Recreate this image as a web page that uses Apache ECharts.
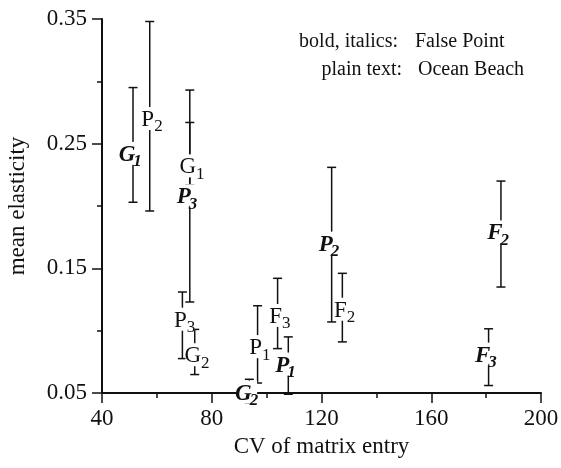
<!DOCTYPE html>
<html>
<head>
<meta charset="utf-8">
<script src="https://cdn.jsdelivr.net/npm/echarts@6/dist/echarts.min.js"></script>
<style>
  html, body { margin: 0; padding: 0; background: #fff; }
  #chart { width: 561px; height: 468px; }
</style>
</head>
<body>
<div id="chart"></div>
<script>
// False Point (bold, italics)
const fpLabels = [['G', '1'], ['P', '3'], ['G', '2'], ['P', '1'], ['P', '2'], ['F', '3'], ['F', '2']]
const fpCV = [51.3, 72.0, 93.7, 107.9, 123.7, 180.9, 185.4]
const fpMean = [0.241, 0.207, 0.0495, 0.072, 0.169, 0.080, 0.178]
const fpLow = [0.203, 0.123, 0.042, 0.049, 0.107, 0.056, 0.135]
const fpHigh = [0.295, 0.267, 0.061, 0.095, 0.231, 0.1015, 0.220]

// Ocean Beach (plain text)
const obLabels = [['P', '2'], ['G', '1'], ['P', '3'], ['G', '2'], ['P', '1'], ['F', '3'], ['F', '2']]
const obCV = [57.4, 72.0, 69.3, 73.8, 96.7, 104.0, 127.6]
const obMean = [0.269, 0.231, 0.108, 0.0795, 0.086, 0.111, 0.116]
const obLow = [0.196, 0.217, 0.0776, 0.0648, 0.058, 0.0856, 0.091]
const obHigh = [0.348, 0.293, 0.131, 0.101, 0.120, 0.142, 0.146]

const xTicks = [40, 200, 40] // min, max, interval
const yTicks = [0.05, 0.35, 0.1]

const FONT = '"Liberation Serif", "DejaVu Serif", serif'
const INK = '#111'

// measure text widths for placing the subscripts
const measureCtx = document.createElement('canvas').getContext('2d')
function textWidth(str, size, bold) {
  measureCtx.font = (bold ? 'italic bold ' : '') + size + 'px ' + FONT
  return measureCtx.measureText(str).width
}

function makeData(cv, mean, low, high) {
  return cv.map((v, i) => [v, mean[i], low[i], high[i]])
}

// 误差棒 + 标签（白底遮住竖线）
function barRenderer(labels, bold) {
  return function (params, api) {
    const x = api.value(0)
    const pHi = api.coord([x, api.value(3)])
    const pLo = api.coord([x, api.value(2)])
    const pM = api.coord([x, api.value(1)])
    const px = pHi[0]
    const capW = 4.5
    const lab = labels[params.dataIndex]
    const mainSize = 23
    const subSize = 17
    const wMain = textWidth(lab[0], mainSize, bold)
    const wSub = textWidth(lab[1], subSize, bold)
    // letter sits a little left of the bar, subscript hangs to the right
    const letterLeft = px - wMain / 2 - (bold ? 6 : 2)
    const subLeft = letterLeft + wMain - (bold ? 2 : 0)
    const lineStyle = { stroke: INK, lineWidth: 1.5 }
    const txtBase = {
      fontFamily: FONT,
      fontStyle: bold ? 'italic' : 'normal',
      fontWeight: bold ? 'bold' : 'normal',
      fill: INK,
      align: 'left',
      verticalAlign: 'middle'
    }
    return {
      type: 'group',
      children: [
        { type: 'line', z2: 1, shape: { x1: px, y1: pHi[1], x2: px, y2: pLo[1] }, style: lineStyle },
        { type: 'line', z2: 1, shape: { x1: px - capW, y1: pHi[1], x2: px + capW, y2: pHi[1] }, style: lineStyle },
        { type: 'line', z2: 1, shape: { x1: px - capW, y1: pLo[1], x2: px + capW, y2: pLo[1] }, style: lineStyle },
        {
          type: 'rect', z2: 5,
          shape: { x: letterLeft + 1, y: pM[1] - 13, width: subLeft + wSub - letterLeft - 2, height: 23 },
          style: { fill: '#fff' }
        },
        {
          type: 'text', z2: 6, x: letterLeft, y: pM[1],
          style: Object.assign({ text: lab[0], fontSize: mainSize }, txtBase)
        },
        {
          type: 'text', z2: 6, x: subLeft, y: pM[1] + 7,
          style: Object.assign({ text: lab[1], fontSize: subSize }, txtBase)
        }
      ]
    }
  }
}

const chart = echarts.init(document.getElementById('chart'), null, { renderer: 'canvas' })

const axisCommon = {
  splitLine: { show: false },
  axisLine: { show: true, lineStyle: { color: INK, width: 2 } },
  axisTick: { show: true, length: 10, lineStyle: { color: INK, width: 1.5 } },
  minorTick: { show: true, splitNumber: 2, length: 5, lineStyle: { color: INK, width: 1.5 } },
  nameTextStyle: { fontFamily: FONT, fontSize: 23, color: INK }
}

const option = {
  backgroundColor: '#fff',
  animation: false,
  grid: { left: 102, right: 20, top: 19, bottom: 75, outerBoundsMode: 'none' },
  xAxis: Object.assign({
    type: 'value',
    min: xTicks[0],
    max: xTicks[1],
    interval: xTicks[2],
    name: 'CV of matrix entry',
    nameLocation: 'middle',
    nameGap: 42,
    axisLabel: { fontFamily: FONT, fontSize: 23, color: INK, margin: 14 }
  }, axisCommon),
  yAxis: Object.assign({
    type: 'value',
    min: yTicks[0],
    max: yTicks[1],
    interval: yTicks[2],
    name: 'mean elasticity',
    nameLocation: 'middle',
    nameGap: 73,
    axisLabel: {
      fontFamily: FONT, fontSize: 23, color: INK, margin: 15,
      formatter: v => v.toFixed(2)
    }
  }, axisCommon),
  graphic: [
    { type: 'text', x: 398, y: 42, style: { text: 'bold, italics:', fontFamily: FONT, fontSize: 20, fill: INK, align: 'right', verticalAlign: 'middle' } },
    { type: 'text', x: 415, y: 42, style: { text: 'False Point', fontFamily: FONT, fontSize: 20, fill: INK, align: 'left', verticalAlign: 'middle' } },
    { type: 'text', x: 402, y: 70, style: { text: 'plain text:', fontFamily: FONT, fontSize: 20, fill: INK, align: 'right', verticalAlign: 'middle' } },
    { type: 'text', x: 418, y: 70, style: { text: 'Ocean Beach', fontFamily: FONT, fontSize: 20, fill: INK, align: 'left', verticalAlign: 'middle' } }
  ],
  series: [
    {
      name: 'Ocean Beach',
      type: 'custom',
      clip: false,
      renderItem: barRenderer(obLabels, false),
      data: makeData(obCV, obMean, obLow, obHigh)
    },
    {
      name: 'False Point',
      type: 'custom',
      clip: false,
      renderItem: barRenderer(fpLabels, true),
      data: makeData(fpCV, fpMean, fpLow, fpHigh)
    }
  ]
}

chart.setOption(option)
</script>
</body>
</html>
